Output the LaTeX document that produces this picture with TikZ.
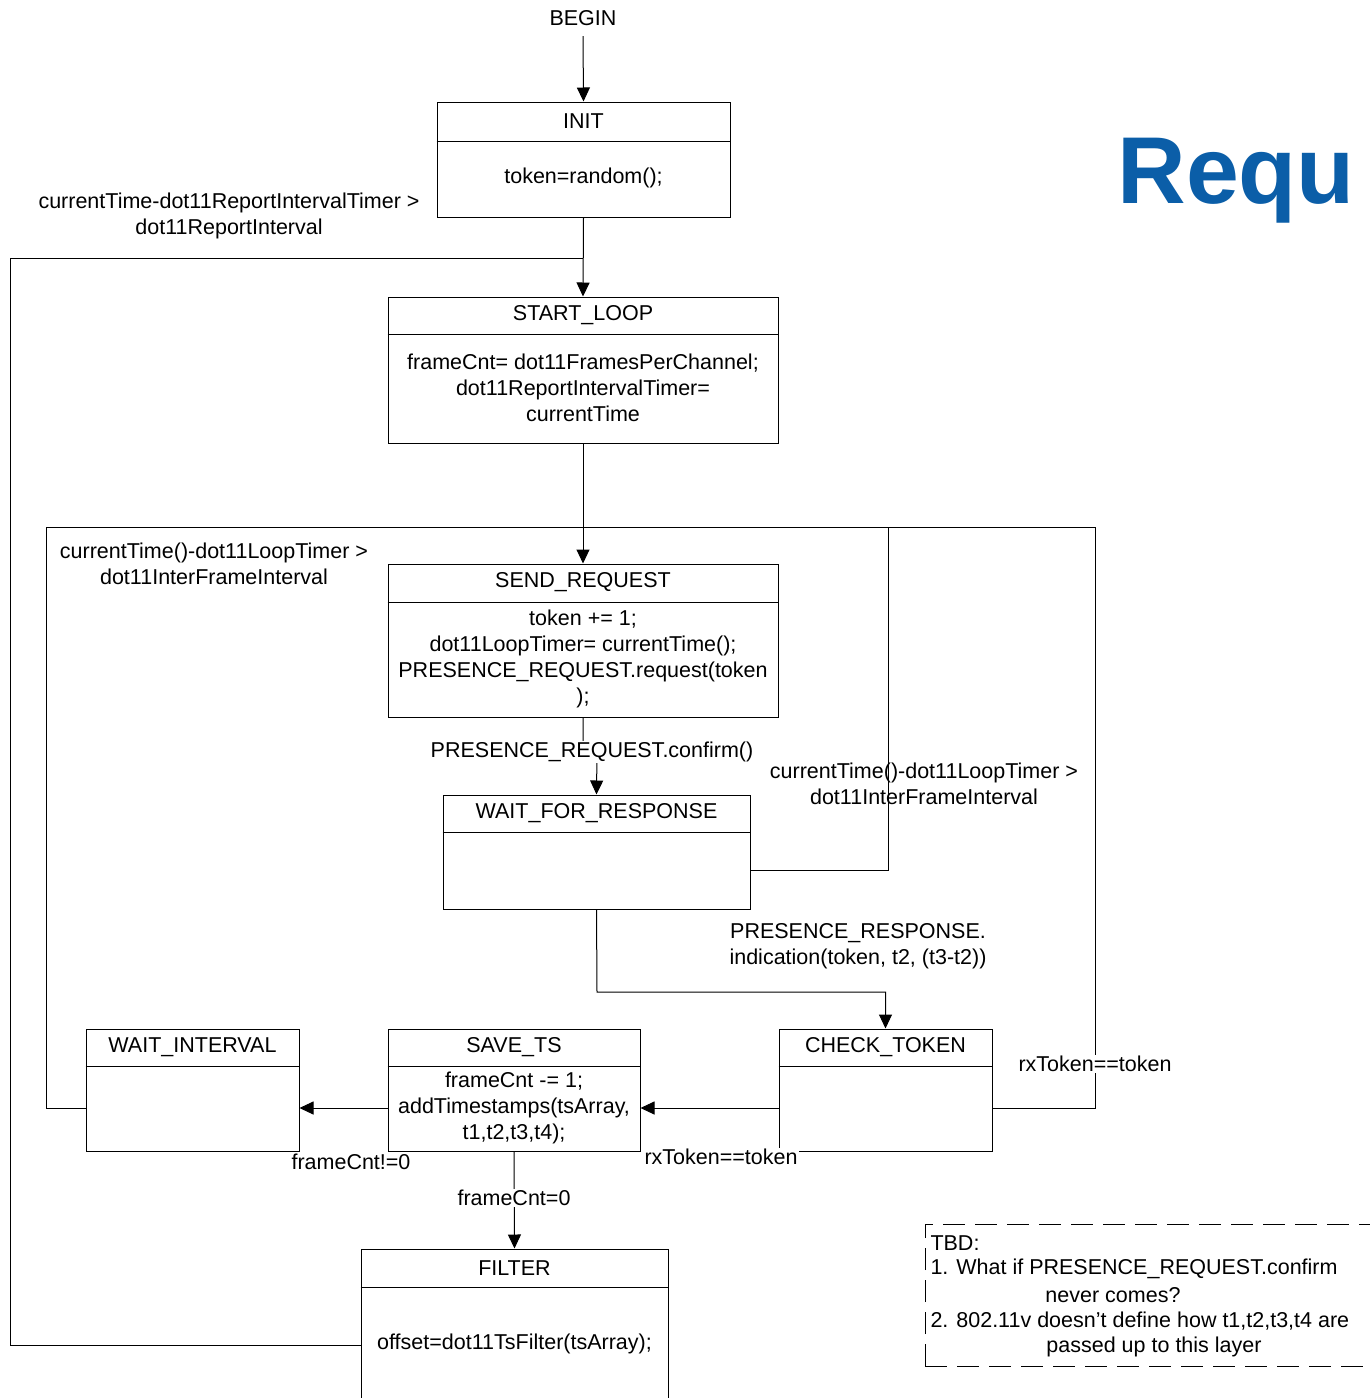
\documentclass[tikz,border=0pt]{standalone}
\usepackage{fontspec}
\setmainfont{Liberation Sans}
\usetikzlibrary{arrows.meta}
\definecolor{reqblue}{RGB}{11,94,168}
\begin{document}
\begin{tikzpicture}[x=1pt,y=-1pt,line width=1pt,
  every node/.style={font=\fontsize{21.5}{26}\selectfont},
  statebox/.style n args={2}{draw,inner sep=0pt,minimum width=#1,minimum height=#2},
  txt/.style={inner sep=0pt,align=center},
  lbl/.style={inner sep=1pt,align=center},
  wlbl/.style={inner sep=1pt,align=center,fill=white},
  arr/.style={-{Triangle[length=14pt,width=13pt]}},
  divider/.style={line width=1pt}]
\useasboundingbox (0,0) rectangle (1370,1398);
\clip (0,0) rectangle (1370,1398);

% title text
\node[anchor=base west,inner sep=0pt,text=reqblue,font=\fontsize{95}{100}\selectfont\bfseries] (req) at (1117,203) {Requ};

% begin
\node[txt] (begin) at (583,18) {BEGIN};

% boxes
\node[statebox={293pt}{115pt}] (init) at (583.5,159.5) {};
\node[statebox={390pt}{146pt}] (sl) at (583,370) {};
\node[statebox={390pt}{153pt}] (sr) at (583,640.5) {};
\node[statebox={307pt}{114pt}] (wfr) at (596.5,852) {};
\node[statebox={213pt}{122pt}] (wi) at (192.5,1090) {};
\node[statebox={252pt}{122pt}] (sts) at (514,1090) {};
\node[statebox={213pt}{122pt}] (ct) at (885.5,1090) {};
\node[statebox={307pt}{190pt}] (filt) at (514.5,1344) {};

% dividers
\draw[divider] (init.west |- 0,141) -- (init.east |- 0,141);
\draw[divider] (sl.west |- 0,334) -- (sl.east |- 0,334);
\draw[divider] (sr.west |- 0,602) -- (sr.east |- 0,602);
\draw[divider] (wfr.west |- 0,832) -- (wfr.east |- 0,832);
\draw[divider] (wi.west |- 0,1066) -- (wi.east |- 0,1066);
\draw[divider] (sts.west |- 0,1066) -- (sts.east |- 0,1066);
\draw[divider] (ct.west |- 0,1066) -- (ct.east |- 0,1066);
\draw[divider] (filt.west |- 0,1287) -- (filt.east |- 0,1287);

% box texts
\node[txt] (initT) at (583.5,121) {INIT};
\node[txt] (initB) at (583.5,178) {token=random();};
\node[txt] (slT) at (583,315) {START\_LOOP};
\node[txt] (slB) at (583,388) {frameCnt= dot11FramesPerChannel;\\dot11ReportIntervalTimer=\\currentTime};
\node[txt] (srT) at (583,582) {SEND\_REQUEST};
\node[txt] (srB) at (583,659) {token += 1;\\dot11LoopTimer= currentTime();\\PRESENCE\_REQUEST.request(token\\);};
\node[txt] (wfrT) at (596.5,813) {WAIT\_FOR\_RESPONSE};
\node[txt] (wiT) at (192.5,1047) {WAIT\_INTERVAL};
\node[txt] (stsT) at (514,1047) {SAVE\_TS};
\node[txt] (stsB) at (514,1108) {frameCnt -= 1;\\addTimestamps(tsArray,\\t1,t2,t3,t4);};
\node[txt] (ctT) at (885.5,1047) {CHECK\_TOKEN};
\node[txt] (filtT) at (514.5,1268) {FILTER};
\node[txt] (filtB) at (514.5,1344) {offset=dot11TsFilter(tsArray);};

% connectors
\draw[arr] (begin.south) ++(0,10) -- (init.north);
\coordinate (j1) at (583,258);
\draw[arr] (init.south) -- (sl.north);
\draw (filt.west |- 0,1345) -- (10,1345) |- (j1);
\node[lbl] (repL) at (229,216) {currentTime-dot11ReportIntervalTimer >\\dot11ReportInterval};

\coordinate (j2) at (583,527);
\draw[arr] (sl.south) -- (sr.north);
\draw (wi.west |- 0,1108) -- (46,1108) |- (j2);
\node[lbl] (loopL) at (214,564) {currentTime()-dot11LoopTimer >\\dot11InterFrameInterval};
\draw (wfr.east |- 0,870) -- (888,870) |- (j2);
\node[lbl] (loopR) at (924,784) {currentTime()-dot11LoopTimer >\\dot11InterFrameInterval};
\draw (ct.east |- 0,1108) -- (1095,1108) |- (j2);
\node[wlbl] (rx1) at (1095,1064) {rxToken==token};

\draw[arr] (sr.south) -- (583,752) -- (597,752) -- (wfr.north);
\node[wlbl] (conf) at (592,752) {PRESENCE\_REQUEST.confirm()};

\draw[arr] (wfr.south) -- (597,992) -| (ct.north);
\node[lbl] (resp) at (858,946) {PRESENCE\_RESPONSE.\\indication(token, t2, (t3-t2))};

\draw[arr] (ct.west |- 0,1108) -- (sts.east |- 0,1108);
\node[wlbl] (rx2) at (721,1157) {rxToken==token};
\draw[arr] (sts.west |- 0,1108) -- (wi.east |- 0,1108);
\node[wlbl] (fcn) at (351,1162) {frameCnt!=0};
\draw[arr] (sts.south) -- (filt.north);
\node[wlbl] (fc0) at (514,1198) {frameCnt=0};

% TBD note
\draw[dash pattern=on 22pt off 10pt] (925,1366) -- (925,1224) -- (1400,1224);
\draw[dash pattern=on 22pt off 10pt] (925,1366) -- (1400,1366);
\node[txt,anchor=west] (tbd0) at (930,1243) {TBD:};
\node[txt,anchor=west] (tbd1) at (930,1269) {1. What if PRESENCE\_REQUEST.confirm};
\node[txt] (tbd2) at (1113,1295) {never comes?};
\node[txt,anchor=west] (tbd3) at (930,1321) {2. 802.11v doesn’t define how t1,t2,t3,t4 are};
\node[txt] (tbd4) at (1154,1347) {passed up to this layer};
\end{tikzpicture}
\end{document}
